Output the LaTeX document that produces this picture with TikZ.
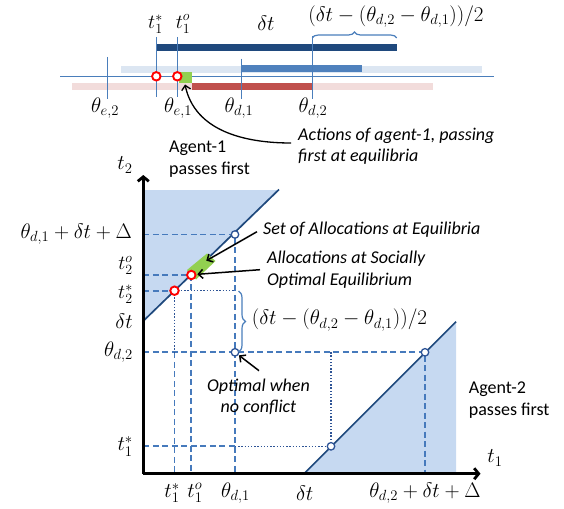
\RequirePackage{fix-cm}
\documentclass[tikz,border=0pt]{standalone}
\usepackage{fontspec}
\newfontfamily\carl{Carlito}
\usetikzlibrary{arrows.meta,decorations.pathreplacing}
\definecolor{navy}{RGB}{31,73,125}
\definecolor{medblue}{RGB}{79,129,189}
\definecolor{lineblue}{RGB}{74,126,187}
\definecolor{dashblue}{RGB}{70,122,188}
\definecolor{dotblue}{RGB}{46,84,150}
\definecolor{circblue}{RGB}{46,84,150}
\definecolor{lightbar}{RGB}{220,230,242}
\definecolor{pinkbar}{RGB}{242,220,219}
\definecolor{redbar}{RGB}{192,80,77}
\definecolor{greenfill}{RGB}{146,208,80}
\definecolor{fillblue}{RGB}{198,217,241}
\begin{document}
\begin{tikzpicture}[x=1pt,y=-1pt,
  thinln/.style={draw=lineblue,line width=1pt},
  bar/.style={line width=6.7pt},
  dashln/.style={draw=dashblue,line width=1.9pt,dash pattern=on 6pt off 3.5pt},
  dotln/.style={draw=dotblue,line width=1.4pt,dash pattern=on 1.4pt off 1.8pt},
  diag/.style={draw=navy,line width=1.7pt},
  opencirc/.style={circle,draw=circblue,fill=white,line width=1.3pt,inner sep=0pt,minimum size=7.5pt},
  redcirc/.style={circle,draw=red,fill=white,line width=1.9pt,inner sep=0pt,minimum size=8.5pt},
  mlab/.style={font=\fontsize{21}{25}\selectfont,inner sep=0pt},
  slab/.style={font=\fontsize{20}{24}\selectfont,inner sep=0pt},
  txt/.style={font=\carl\fontsize{18}{21.5}\selectfont,inner sep=0pt,align=left},
  itxt/.style={txt,font=\carl\itshape\fontsize{18}{21.5}\selectfont},
  callout/.style={-{Straight Barb[length=4.5pt,width=9pt]},line width=1.5pt},
  axis/.style={line width=2.8pt,-{Straight Barb[length=4.5pt,width=11pt]}},
  bracebl/.style={draw=lineblue,line width=1.2pt,decorate}]
\useasboundingbox (0,0) rectangle (564,508);

% ---------------- top timeline ----------------
\draw[bar,draw=lightbar] (121,69.3) -- (482,69.3);
\draw[bar,draw=pinkbar] (72,86.3) -- (433,86.3);
\draw[bar,draw=navy] (156.3,47.3) -- (396.7,47.3);
\draw[bar,draw=medblue] (241.3,68.7) -- (362,68.7);
\draw[bar,draw=redbar] (191.5,86.5) -- (312.3,86.5);
\draw[thinln] (60,76.3) -- (493.7,76.3);
\draw[thinln] (107.3,57) -- (107.3,99);
\draw[thinln] (156.3,37) -- (156.3,97);
\draw[thinln] (177.3,37) -- (177.3,97);
\draw[thinln] (241.3,58.7) -- (241.3,98.7);
\draw[thinln] (312.3,36) -- (312.3,98.7);
\fill[greenfill] (178.5,72) rectangle (191.5,83);
\node[redcirc] (ts) at (156.3,76.3) {};
\node[redcirc] (to) at (177.3,76.3) {};
\draw[bracebl,decoration={brace,amplitude=6pt}] (312.3,38) -- (396.7,38);
\node[slab] (lts) at (155.5,24) {$t_1^*$};
\node[slab] (lto) at (183,24) {$t_1^o$};
\node[mlab] (ldt) at (266,23) {$\delta t$};
\node[mlab] (lbr) at (396,16.5) {$(\delta t-(\theta_{d,2}-\theta_{d,1}))/2$};
\node[mlab] (le2) at (105,108) {$\theta_{e,2}$};
\node[mlab] (le1) at (178,108) {$\theta_{e,1}$};
\node[mlab] (ld1) at (239,108) {$\theta_{d,1}$};
\node[mlab] (ld2) at (313,108) {$\theta_{d,2}$};
\node[itxt,anchor=west] (act) at (298,146) {Actions of agent-1, passing\\first at equilibria};
\coordinate (gtip) at (185,84.5);
\draw[callout,line width=1.3pt] ([xshift=-7pt,yshift=3pt]act.west) to[out=180,in=-78] (gtip);

% ---------------- lower plot ----------------
\coordinate (O) at (143.3,473.7);
\coordinate (ytop) at (143.3,175);
\coordinate (xend) at (480.5,473.7);
\fill[fillblue] (143.3,321) -- (143.3,190) -- (279,190) -- cycle;
\fill[fillblue] (304,473.7) -- (456,321.7) -- (456,473.7) -- cycle;

\coordinate (A) at (235,234.5);
\coordinate (R2) at (191.3,275);
\coordinate (R1) at (174.5,290.7);
\coordinate (C) at (235,352.3);
\coordinate (B) at (425,352.3);
\coordinate (D) at (331,446.3);

% dashed guides
\draw[dashln] (143.3,234.5) -- (A) -- (235,473.7);
\draw[dashln] (143.3,275) -- (R2) -- (191.3,473.7);
\draw[dashln] (143.3,290.7) -- (R1);
\draw[dashln] (174.5,352.3) -- (174.5,473.7);
\draw[dashln] (143.3,352.3) -- (B) -- (425,473.7);
\draw[dashln] (143.3,446.3) -- (235,446.3);
% dotted guides
\draw[dotln] (R1) -- (235,290.7);
\draw[dotln] (R1) -- (174.5,352.3);
\draw[dotln] (235,446.3) -- (D) -- (331,352.3);

% diagonals
\draw[diag] (143.3,321) -- (279,189.5);
\draw[diag] (304,473.7) -- (456,321.7);
\fill[greenfill] (187,270) -- (207,253.5) -- (215.5,261) -- (196,279.5) -- cycle;

% axes
\draw[axis] (O) -- (ytop);
\draw[axis] (O) -- (xend);

% points
\node[opencirc] (nA) at (A) {};
\node[opencirc] (nC) at (C) {};
\node[opencirc] (nB) at (B) {};
\node[opencirc] (nD) at (D) {};
\node[redcirc] (nR2) at (R2) {};
\node[redcirc] (nR1) at (R1) {};

% brace
\draw[bracebl,decoration={brace,amplitude=7pt}] (238.5,291) -- (238.5,352);
\node[mlab,anchor=west] (lbr2) at (251.7,320) {$(\delta t-(\theta_{d,2}-\theta_{d,1}))/2$};

% axis labels
\node[mlab] (lt2) at (125,165) {$t_2$};
\node[mlab] (lt1) at (495,458) {$t_1$};
\node[mlab,anchor=east] (ya) at (132,234) {$\theta_{d,1}+\delta t+\Delta$};
\node[slab,anchor=east] (yb) at (133,265.5) {$t_2^o$};
\node[slab,anchor=east] (yc) at (133,294.5) {$t_2^*$};
\node[mlab,anchor=east] (yd) at (133,321.7) {$\delta t$};
\node[mlab,anchor=east] (ye) at (133,352) {$\theta_{d,2}$};
\node[mlab,anchor=east] (yf) at (133,446.3) {$t_1^*$};
\node[mlab] (xa) at (172,493) {$t_1^*$};
\node[mlab] (xb) at (195,493) {$t_1^o$};
\node[mlab] (xc) at (235.5,493) {$\theta_{d,1}$};
\node[mlab] (xd) at (304.7,493) {$\delta t$};
\node[mlab] (xe) at (425,493) {$\theta_{d,2}+\delta t+\Delta$};

% region texts
\node[txt,anchor=west] (ag1) at (169,159) {Agent-1\\passes first};
\node[txt,anchor=west] (ag2) at (468.7,400) {Agent-2\\passes first};

% annotations
\node[itxt,anchor=west] (set) at (263,230) {Set of Allocations at Equilibria};
\node[itxt,anchor=west] (soc) at (267,269.7) {Allocations at Socially\\Optimal Equilibrium};
\node[itxt,align=center] (opt) at (258.5,397) {Optimal when\\no conflict};
\coordinate (settip) at (206.3,260.7);
\coordinate (soctip) at (197.3,274.3);
\coordinate (optstart) at (259,370.7);
\draw[callout] ([xshift=-6pt,yshift=-1.7pt]set.west) -- (settip);
\draw[callout] ([xshift=-7pt]soc.west) -- (soctip);
\draw[callout,shorten >=0.6pt] (optstart) -- (nC);
\end{tikzpicture}
\end{document}
